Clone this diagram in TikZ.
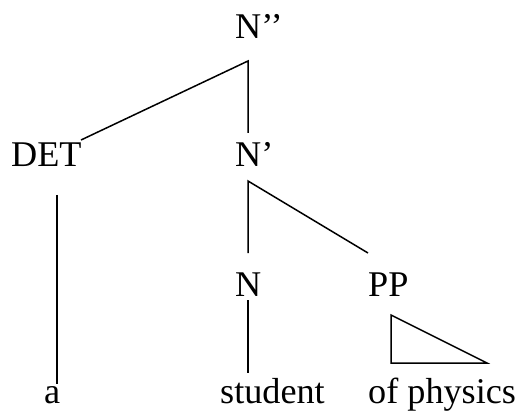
\documentclass[tikz,border=0pt]{standalone}
\usepackage{fontspec}
\setmainfont{Liberation Serif}
\usetikzlibrary{positioning,calc}

\begin{document}
\begin{tikzpicture}[x=1pt, y=-1pt,
		cat/.style={anchor=base west, inner sep=0pt, font=\fontsize{36.2}{40}\selectfont},
		branch/.style={line width=1.5pt},
	]
	\useasboundingbox (0,0) rectangle (526,419);

	% labels
	\node[cat] (npp)     at (235,39)  {N’’};
	\node[cat] (det)     at (11,167)  {DET};
	\node[cat] (np)      at (235,167) {N’};
	\node[cat] (n)       at (235,296) {N};
	\node[cat] (pp)      at (368,296) {PP};
	\node[cat] (a)       at (44,403)  {a};
	\node[cat] (student) at (220,403) {student};
	\node[cat] (ofphys)  at (368,403) {of physics};

	% branch ends
	\coordinate (npp-b)     at (248,61);
	\coordinate (det-t)     at (81,140);
	\coordinate (np-t)      at (248,133);
	\coordinate (det-b)     at (57,195);
	\coordinate (a-t)       at (57,384);
	\coordinate (np-b)      at (248,181);
	\coordinate (n-t)       at (248,253);
	\coordinate (pp-t)      at (368,253);
	\coordinate (n-b)       at (248,300);
	\coordinate (student-t) at (248,373);

	\draw[branch] (det-t) -- (npp-b) -- (np-t);
	\draw[branch] (det-b) -- (a-t);
	\draw[branch] (n-t) -- (np-b) -- (pp-t);
	\draw[branch] (n-b) -- (student-t);

	% PP roof
	\coordinate (roof-a) at (391,315);
	\coordinate (roof-b) at (391,363);
	\coordinate (roof-c) at (487,363);
	\draw[branch] (roof-a) -- (roof-b) -- (roof-c) -- cycle;

\end{tikzpicture}
\end{document}
